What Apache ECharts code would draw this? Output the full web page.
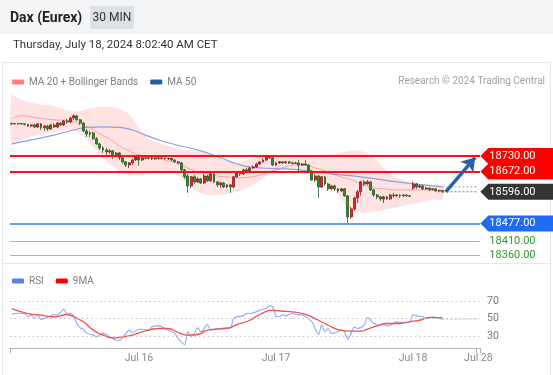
<!DOCTYPE html>
<html><head><meta charset="utf-8">
<script src="https://cdn.jsdelivr.net/npm/echarts@6/dist/echarts.min.js"></script>
<style>html,body{margin:0;padding:0;background:#fff;}#c{width:553px;height:375px;}</style>
</head><body><div id="c"></div>
<script>
// ---------- DATA ----------
const slotCount = 144;
const categories = Array.from({length: slotCount}, (_, i) => String(i));
const tickIndex = [39, 81, 123, 143];
const tickText = ['Jul 16', 'Jul 17', 'Jul 18', 'Jul 28'];

// [open, close, low, high]
const candles = [
[18850,18851,18846,18855],[18851,18850,18846,18853],[18850,18851,18848,18853],[18851,18850,18846,18853],
[18850,18848,18844,18851],[18848,18842,18838,18850],[18842,18846,18838,18848],[18846,18838,18835,18850],
[18838,18850,18835,18853],[18850,18835,18827,18853],[18835,18842,18823,18846],[18842,18831,18823,18846],
[18831,18846,18827,18850],[18846,18838,18835,18853],[18838,18853,18835,18857],[18853,18846,18842,18857],
[18846,18861,18842,18865],[18861,18857,18850,18868],[18857,18872,18853,18876],[18872,18880,18865,18885],
[18880,18865,18861,18883],[18865,18853,18846,18868],[18853,18823,18820,18857],[18823,18812,18801,18831],
[18812,18816,18801,18823],[18816,18794,18790,18820],[18794,18775,18771,18801],[18775,18760,18752,18779],
[18760,18752,18741,18767],[18752,18745,18734,18760],[18745,18749,18738,18756],[18749,18734,18719,18752],
[18734,18741,18730,18745],[18741,18723,18715,18745],[18723,18708,18700,18726],[18708,18696,18689,18711],
[18696,18704,18685,18708],[18704,18715,18696,18719],[18715,18726,18711,18730],[18726,18715,18693,18730],
[18715,18723,18711,18726],[18723,18721,18717,18726],[18721,18723,18717,18724],[18723,18719,18715,18726],
[18719,18723,18715,18724],[18723,18721,18717,18726],[18721,18723,18719,18724],[18723,18719,18715,18724],
[18719,18721,18715,18723],[18721,18715,18711,18723],[18715,18708,18704,18717],[18708,18704,18700,18711],
[18704,18678,18674,18708],[18678,18652,18644,18682],[18655,18618,18592,18663],[18618,18652,18610,18655],
[18652,18633,18625,18659],[18633,18644,18629,18652],[18644,18629,18625,18648],[18629,18655,18625,18663],
[18655,18637,18633,18659],[18637,18663,18633,18670],[18663,18633,18629,18667],[18633,18622,18614,18637],
[18622,18629,18610,18633],[18629,18614,18610,18633],[18614,18622,18610,18625],[18622,18614,18592,18625],
[18614,18652,18610,18655],[18652,18667,18648,18670],[18667,18663,18655,18674],[18663,18678,18659,18682],
[18678,18674,18670,18685],[18674,18685,18670,18689],[18685,18689,18682,18695],[18689,18700,18685,18704],
[18700,18708,18696,18711],[18708,18715,18704,18721],[18715,18726,18711,18730],[18726,18723,18719,18730],
[18723,18696,18693,18726],[18696,18704,18693,18708],[18704,18708,18700,18711],[18708,18704,18700,18710],
[18704,18708,18702,18711],[18708,18704,18700,18710],[18704,18702,18698,18708],[18702,18704,18700,18708],
[18704,18696,18674,18715],[18696,18700,18693,18704],[18700,18696,18693,18715],[18696,18674,18670,18700],
[18674,18640,18637,18678],[18640,18655,18633,18663],[18655,18614,18573,18659],[18614,18652,18610,18655],
[18652,18625,18618,18655],[18625,18607,18599,18629],[18607,18618,18603,18622],[18618,18607,18599,18622],
[18607,18599,18592,18610],[18599,18607,18596,18610],[18607,18581,18577,18610],[18581,18502,18480,18584],
[18502,18532,18495,18540],[18532,18573,18525,18577],[18573,18596,18554,18603],[18596,18633,18581,18637],
[18633,18625,18618,18640],[18625,18633,18622,18640],[18633,18603,18599,18637],[18603,18584,18577,18607],
[18584,18577,18569,18588],[18577,18569,18562,18581],[18569,18577,18554,18581],[18577,18569,18566,18581],
[18569,18584,18566,18588],[18584,18581,18573,18592],[18581,18584,18577,18588],[18584,18581,18573,18588],
[18581,18584,18577,18588],[18584,18581,18577,18586],[18581,18579,18577,18584],[18610,18625,18603,18633],
[18625,18614,18607,18629],[18614,18618,18610,18624],[18618,18607,18603,18622],[18607,18610,18603,18614],
[18610,18605,18599,18612],[18605,18607,18601,18610],[18607,18599,18596,18609],[18599,18601,18594,18603],
[18601,18596,18592,18603]
];

// [slot, price]
const bbUpper = [[0,18958],[3,18939],[8,18924],[13,18917],[18,18898],[21,18898],[24,18909],[27,18913],[30,18913],[33,18906],[36,18887],[39,18835],[42,18793],[45,18779],[48,18767],[51,18756],[54,18752],[57,18749],[60,18741],[63,18726],[66,18708],[69,18704],[72,18715],[75,18726],[78,18734],[81,18734],[84,18730],[87,18726],[90,18726],[93,18730],[96,18734],[99,18737],[102,18745],[105,18752],[108,18745],[111,18723],[114,18685],[117,18655],[120,18640],[123,18633],[126,18625],[129,18622],[132,18622]];
const bbLower = [[0,18771],[3,18790],[8,18808],[13,18820],[18,18827],[21,18812],[24,18779],[27,18734],[30,18700],[33,18674],[36,18659],[39,18659],[42,18663],[45,18670],[48,18674],[51,18659],[54,18625],[57,18596],[60,18584],[63,18584],[66,18588],[69,18596],[72,18610],[75,18629],[78,18655],[81,18670],[84,18681],[87,18681],[90,18674],[93,18655],[96,18633],[99,18603],[102,18554],[105,18521],[108,18517],[111,18521],[114,18528],[117,18536],[120,18543],[123,18551],[126,18558],[129,18566],[132,18569]];
const ma20 = [[0,18868],[3,18880],[8,18872],[13,18865],[18,18861],[21,18850],[24,18835],[27,18812],[30,18794],[33,18767],[36,18749],[39,18734],[42,18726],[45,18719],[48,18711],[51,18700],[54,18685],[57,18670],[60,18663],[63,18655],[66,18652],[69,18648],[72,18650],[75,18655],[78,18667],[81,18678],[84,18689],[87,18696],[90,18696],[93,18685],[96,18674],[99,18659],[102,18648],[105,18637],[108,18621],[111,18610],[114,18607],[117,18603],[120,18603],[123,18603],[126,18603],[129,18601],[132,18599]];
const ma50 = [[0,18775],[6,18790],[13,18808],[19,18827],[23,18837],[28,18839],[33,18837],[37,18827],[41,18808],[46,18786],[52,18767],[58,18749],[64,18723],[69,18700],[74,18687],[80,18683],[88,18678],[98,18663],[108,18650],[118,18633],[126,18622],[132,18614]];
const ma50Projection = [[132,18614],[143,18614]];
const lastCloseProjection = [[132,18596],[143,18596]];
const arrowFrom = [133, 18596];
const arrowTo = [142, 18724];

const levels = [
  {value: 18730, text: '18730.00', kind: 'res'},
  {value: 18672, text: '18672.00', kind: 'res'},
  {value: 18596, text: '18596.00', kind: 'last'},
  {value: 18477, text: '18477.00', kind: 'sup'},
  {value: 18410, text: '18410.00', kind: 'sup2'},
  {value: 18360, text: '18360.00', kind: 'sup2'}
];

const rsi = [[0,54.6],[2,56],[4,55.7],[5,52],[6,54],[7,50],[8,54],[9,49],[10,50],[12,53],[13,54.6],[14,54],[15,57],[16,60.7],[17,54.6],[18,55.7],[19,53],[20,44.3],[21,39.3],[22,37.8],[23,33],[25,31],[26,29],[28,33],[29,31.7],[31,27],[32,25.2],[33,25.2],[35,33],[36,36.7],[37,34],[39,37.8],[40,37.8],[42,36.7],[43,40.5],[45,41.6],[46,40.5],[48,36.7],[50,33],[51,27],[53,20.3],[54,34.8],[55,29],[56,33],[57,39.3],[58,34.8],[60,43],[61,36.7],[63,38.6],[64,38.6],[66,39.3],[67,39.3],[68,50],[69,52],[71,53],[72,55.7],[73,55.7],[75,57.6],[76,59.5],[78,61.4],[79,64.5],[80,63.3],[81,53],[82,52],[83,54.6],[84,53],[86,55.7],[87,54.6],[89,54],[90,52],[92,46.2],[93,38.6],[94,31.7],[95,42.4],[96,34.8],[97,38.6],[98,33],[100,34.8],[101,36.7],[102,34.8],[103,26.4],[104,33],[105,40.5],[106,38.6],[108,42.4],[109,51.1],[110,48],[111,44.3],[112,42.4],[114,43],[115,41.6],[117,44.3],[118,46.2],[120,45.4],[122,46.2],[123,54.6],[124,53],[126,52],[127,50],[129,52],[130,51],[131,50],[132,49.2]];
const rsiProjection = [[132,49.2],[143,49.2]];
const rsiMA9 = [[0,61.4],[5,55.7],[9,53.8],[13,52],[17,54.6],[19,52],[22,46.2],[25,36.7],[28,31],[31,27.9],[34,29],[37,31],[40,34.8],[45,38.6],[48,38.6],[51,34],[54,31],[57,31.7],[60,36.7],[63,37.8],[66,38.6],[69,43],[73,48],[76,54.6],[80,59.5],[83,58.3],[86,57.6],[90,54.6],[94,48],[97,42.4],[100,37.4],[104,35.5],[107,35.5],[109,37.8],[112,41.6],[115,44.3],[119,44.3],[122,46.2],[125,48],[128,51],[132,51]];
const rsiLevels = [70, 50, 30];

// ---------- CHART ----------
const FONT = 'Roboto, Arial, sans-serif';
const tagPath = 'path://M0,8 L8,0 L75,0 L75,16 L8,16 Z';
const levelLineStyle = {
  res: {color: '#ff1010', width: 2},
  sup: {color: '#3a78f0', width: 1.5},
  sup2: {color: '#86cf82', width: 1.2}
};
const tagColor = {res: '#ff0000', last: '#333333', sup: '#1f6bf5', sup2: 'rgba(0,0,0,0)'};

const chart = echarts.init(document.getElementById('c'), null, {renderer: 'canvas'});

const option = {
  animation: false,
  textStyle: {fontFamily: FONT},
  graphic: [
    {type: 'rect', shape: {x: 0, y: 0, width: 553, height: 34}, style: {fill: '#f4f5f7'}, silent: true, z: -10},
    {type: 'rect', shape: {x: 90, y: 6, width: 44, height: 23, r: 2}, style: {fill: '#dde0e5'}, silent: true},
    {type: 'text', x: 10, y: 18, style: {text: 'Dax (Eurex)', font: 'bold 14px ' + FONT, fill: '#222', textVerticalAlign: 'middle'}},
    {type: 'text', x: 112, y: 18, style: {text: '30 MIN', font: '12px ' + FONT, fill: '#333', textAlign: 'center', textVerticalAlign: 'middle'}},
    {type: 'text', x: 13, y: 45, style: {text: 'Thursday, July 18, 2024 8:02:40 AM CET', font: '11.5px ' + FONT, fill: '#333', textVerticalAlign: 'middle'}},
    {type: 'rect', shape: {x: 2.5, y: 62.5, width: 548, height: 320}, style: {fill: 'none', stroke: '#e4e7eb', lineWidth: 1}, silent: true, z: -5},
    {type: 'line', shape: {x1: 2, y1: 263.5, x2: 551, y2: 263.5}, style: {stroke: '#e4e7eb', lineWidth: 1}, silent: true},
    {type: 'text', x: 545, y: 81, style: {text: 'Research \u00a9 2024 Trading Central', font: '10px ' + FONT, fill: '#a0a0a0', textAlign: 'right', textVerticalAlign: 'middle'}}
  ],
  legend: [
    {
      left: 12, top: 77, padding: 0, itemWidth: 12, itemHeight: 5, itemGap: 12, icon: 'roundRect', selectedMode: false,
      textStyle: {fontSize: 10, color: '#808080', fontFamily: FONT},
      data: [
        {name: 'MA 20 + Bollinger Bands', itemStyle: {color: '#ff8080'}},
        {name: 'MA 50', itemStyle: {color: '#2b5a9e'}}
      ]
    },
    {
      left: 12, top: 276, padding: 0, itemWidth: 12, itemHeight: 5, itemGap: 12, icon: 'roundRect', selectedMode: false,
      textStyle: {fontSize: 10, color: '#808080', fontFamily: FONT},
      data: [
        {name: 'RSI', itemStyle: {color: '#5a82e6'}},
        {name: '9MA', itemStyle: {color: '#ff0000'}}
      ]
    }
  ],
  grid: [
    {left: 10, top: 92, width: 470, height: 168},
    {left: 10, top: 288.75, width: 470, height: 59.5}
  ],
  xAxis: [
    {type: 'category', gridIndex: 0, data: categories, boundaryGap: true, show: false},
    {
      type: 'category', gridIndex: 1, data: categories, boundaryGap: true,
      axisLine: {onZero: false, lineStyle: {color: '#b0b0b0', width: 1}},
      axisTick: {show: true, length: 5, interval: function (i) { return i === 0 || i === slotCount - 1; }, lineStyle: {color: '#b0b0b0'}},
      axisLabel: {
        interval: function (i) { return tickIndex.indexOf(i) >= 0; },
        formatter: function (v, i) { const k = tickIndex.indexOf(i); return k >= 0 ? tickText[k] : ''; },
        color: '#888', fontSize: 10.5, fontFamily: FONT, margin: 5
      },
      splitLine: {show: false}
    }
  ],
  yAxis: [
    {type: 'value', gridIndex: 0, min: 18341, max: 18969, show: false, scale: true},
    {type: 'value', gridIndex: 1, min: 16, max: 84, show: false}
  ],
  series: [
    {
      type: 'custom', name: 'band', xAxisIndex: 0, yAxisIndex: 0, silent: true, z: 1,
      data: [[0, bbUpper[0][1]]],
      renderItem: function (params, api) {
        const pts = [];
        bbUpper.forEach(function (p) { pts.push(api.coord(p)); });
        for (let k = bbLower.length - 1; k >= 0; k--) pts.push(api.coord(bbLower[k]));
        return {type: 'polygon', shape: {points: pts, smooth: 0.25}, style: {fill: 'rgba(255,196,196,0.48)', stroke: null}};
      }
    },
    {
      type: 'line', name: 'MA 20 + Bollinger Bands', xAxisIndex: 0, yAxisIndex: 0, data: ma20, smooth: true,
      showSymbol: false, lineStyle: {color: '#f5a0a0', width: 1}, itemStyle: {color: '#ff8080'}, z: 2
    },
    {
      type: 'line', name: 'MA 50', xAxisIndex: 0, yAxisIndex: 0, data: ma50, smooth: true,
      showSymbol: false, lineStyle: {color: '#8aa3d6', width: 1.2}, itemStyle: {color: '#2b5a9e'}, z: 2
    },
    {
      type: 'line', name: 'ma50proj', xAxisIndex: 0, yAxisIndex: 0, data: ma50Projection,
      showSymbol: false, lineStyle: {color: '#8aa3d6', width: 1, type: [2, 2]}, z: 2
    },
    {
      type: 'candlestick', name: 'price', xAxisIndex: 0, yAxisIndex: 0, data: candles, barWidth: 2.4, z: 3,
      itemStyle: {color: '#e8262b', color0: '#2f8f2f', borderColor: '#8a1b1b', borderColor0: '#1d5e1d', borderWidth: 0.8},
      markLine: {
        silent: true, symbol: 'none', label: {show: false}, animation: false,
        data: levels.filter(function (l) { return l.kind !== 'last'; }).map(function (l) {
          return {yAxis: l.value, lineStyle: Object.assign({type: 'solid'}, levelLineStyle[l.kind])};
        })
      }
    },
    {
      type: 'line', name: 'lastproj', xAxisIndex: 0, yAxisIndex: 0, data: lastCloseProjection, clip: false,
      showSymbol: false, lineStyle: {color: '#777', width: 1, type: [2, 2]}, z: 4,
      markPoint: {
        silent: true, animation: false,
        data: levels.map(function (l) {
          return {
            coord: [slotCount - 1, l.value], symbol: l.kind === 'sup2' ? 'rect' : tagPath,
            symbolSize: [75, 16], symbolOffset: [39.5, 0],
            itemStyle: {color: tagColor[l.kind]},
            label: {show: true, position: 'insideLeft', distance: 9, formatter: l.text,
              color: l.kind === 'sup2' ? '#2e9a2e' : '#fff', fontSize: 11, fontFamily: FONT}
          };
        })
      }
    },
    {
      type: 'line', name: 'arrow', xAxisIndex: 0, yAxisIndex: 0, data: [], clip: false, z: 5,
      markLine: {
        silent: true, symbol: ['none', 'arrow'], symbolSize: 13, animation: false,
        label: {show: false},
        lineStyle: {color: '#2a62a8', width: 3.5, type: 'solid'},
        itemStyle: {color: '#2a62a8'},
        data: [[{coord: arrowFrom}, {coord: arrowTo}]]
      }
    },
    {
      type: 'line', name: 'RSI', xAxisIndex: 1, yAxisIndex: 1, data: rsi, smooth: 0.3,
      showSymbol: false, lineStyle: {color: '#8fa9ee', width: 1.1}, itemStyle: {color: '#5a82e6'}, z: 3,
      markLine: {
        silent: true, symbol: 'none', animation: false,
        lineStyle: {color: '#c4c4c4', type: [1.5, 3], width: 1},
        label: {show: true, position: 'end', distance: 7, formatter: '{c}', color: '#777', fontSize: 10.5, fontFamily: FONT},
        data: rsiLevels.map(function (v) { return {yAxis: v}; })
      }
    },
    {
      type: 'line', name: 'rsiproj', xAxisIndex: 1, yAxisIndex: 1, data: rsiProjection,
      showSymbol: false, lineStyle: {color: '#a8bdf0', width: 1, type: [2, 2]}, z: 3
    },
    {
      type: 'line', name: '9MA', xAxisIndex: 1, yAxisIndex: 1, data: rsiMA9, smooth: true,
      showSymbol: false, lineStyle: {color: '#f25252', width: 1.3}, itemStyle: {color: '#ff0000'}, z: 4
    }
  ]
};
chart.setOption(option);
</script>
</body></html>
